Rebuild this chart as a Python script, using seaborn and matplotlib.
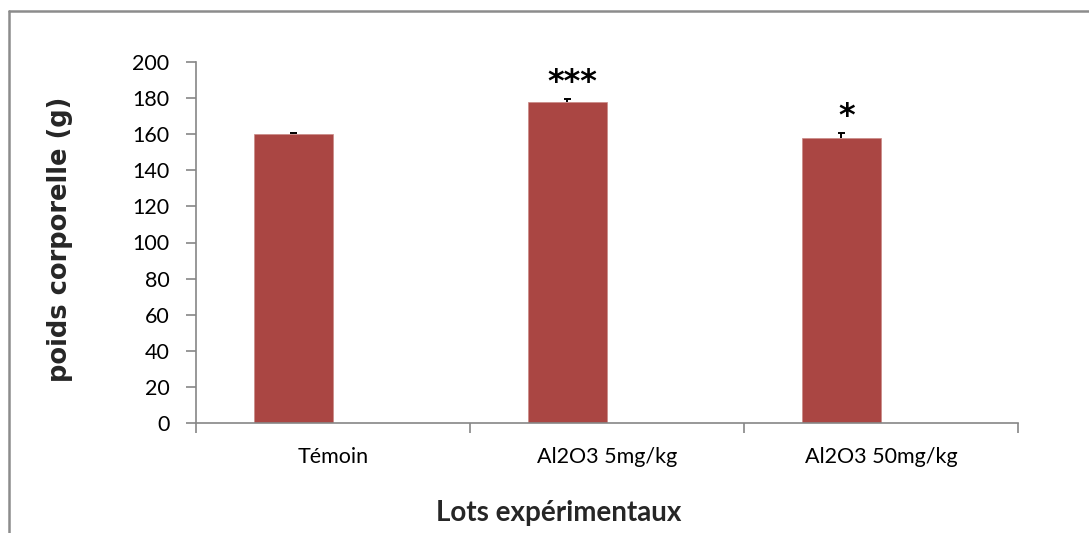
import matplotlib
matplotlib.use("Agg")
import matplotlib.pyplot as plt
import seaborn as sns
import pandas as pd
from matplotlib.lines import Line2D
from matplotlib.ticker import FixedLocator

# Body weight per experimental group
groups = ["Témoin", "Al2O3 5mg/kg", "Al2O3 50mg/kg"]
weights = [160.3, 177.9, 157.8]
errors = [0.4, 1.8, 3.0]
signif = ["", "***", "*"]
series = ["poids", "série 2"]   # second series is empty, keeps the bars offset

sns.set_theme(style="white")
plt.rcParams["font.family"] = ["Lato", "DejaVu Sans"]

bar_color = "#AA4643"
axis_gray = "#868686"

df = pd.DataFrame({"groupe": groups, "poids": weights, "serie": series[0]})

fig = plt.figure(figsize=(10.89, 5.33), dpi=100)
ax = fig.add_axes([196 / 1089, 1 - 423 / 533, (1018 - 196) / 1089, (423 - 62) / 533])

sns.barplot(data=df, x="groupe", y="poids", hue="serie", hue_order=series,
            palette={series[0]: bar_color, series[1]: "white"}, saturation=1,
            width=0.58, dodge=True, edgecolor="#C98986", linewidth=0.5,
            errorbar=None, legend=False, ax=ax)

# upward-only error bars at each bar centre
centres = [p.get_x() + p.get_width() / 2 for p in ax.patches if p.get_height() > 0]
centres = sorted(centres)[:len(groups)]
tops = [w + e for w, e in zip(weights, errors)]
cap = 0.013
ax.vlines(centres, weights, tops, color="black", linewidth=1.4, zorder=3)
ax.hlines(tops, [c - cap for c in centres], [c + cap for c in centres],
          color="black", linewidth=1.4, zorder=3)

# significance stars
for c, t, s in zip(centres, tops, signif):
    if s:
        ax.text(c + 0.02, t + 9, s, ha="center", va="center", fontsize=23,
                fontweight="bold", color="black", family="DejaVu Sans")

ax.set_ylim(0, 200)
ax.set_yticks(range(0, 201, 20))
ax.set_xlim(-0.5, 2.5)

for side in ["top", "right"]:
    ax.spines[side].set_visible(False)
for side in ["left", "bottom"]:
    ax.spines[side].set_color(axis_gray)
    ax.spines[side].set_linewidth(1.2)

ax.tick_params(axis="y", which="major", direction="out", length=7, width=1.2,
               color=axis_gray, labelsize=15.5, labelcolor="black", left=True, pad=12)
ax.tick_params(axis="x", which="major", length=0, labelsize=15.5,
               labelcolor="black", pad=17)
ax.xaxis.set_minor_locator(FixedLocator([-0.5, 0.5, 1.5, 2.5]))
ax.tick_params(axis="x", which="minor", direction="out", length=7, width=1.2,
               color=axis_gray, bottom=True)

ax.set_xlabel("Lots expérimentaux", fontsize=20, fontweight="bold")
ax.xaxis.set_label_coords(0.4416, -0.249)
ax.xaxis.label.set_va("center")
ax.set_ylabel("poids corporelle (g)", fontsize=18.5, fontweight="heavy",
              family="DejaVu Sans")
ax.yaxis.set_label_coords(-0.1655, 0.51)
ax.yaxis.label.set_va("center")
ax.grid(False)

# chart-area frame (left and top edges)
fig.add_artist(Line2D([8.5 / 1089, 8.5 / 1089], [0, 1 - 10.5 / 533],
                      transform=fig.transFigure, color="#8C8C8C", linewidth=1.8))
fig.add_artist(Line2D([8.5 / 1089, 1], [1 - 10.5 / 533, 1 - 10.5 / 533],
                      transform=fig.transFigure, color="#8C8C8C", linewidth=1.8))

fig.savefig("out.png", dpi=100, facecolor="white")
